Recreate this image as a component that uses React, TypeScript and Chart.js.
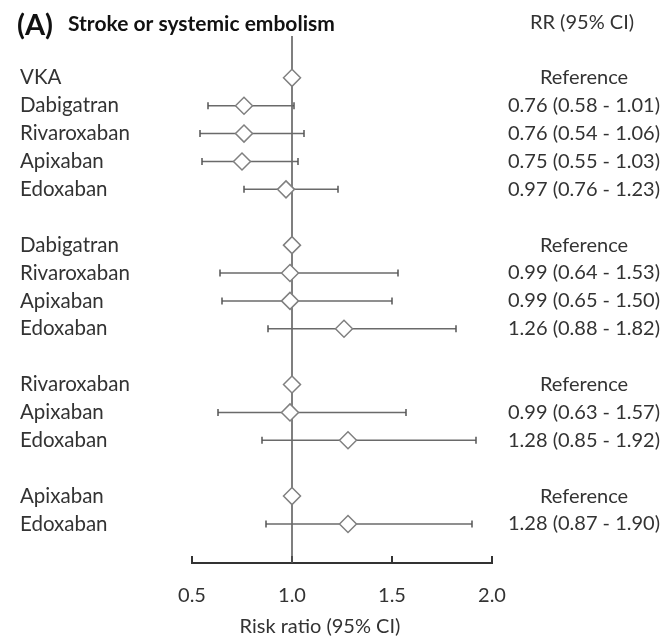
import React, { useEffect, useRef } from 'react';
import { Chart, registerables } from 'chart.js';

Chart.register(...registerables);

// ---- data ----
const rowLabels = [
  'VKA', 'Dabigatran', 'Rivaroxaban', 'Apixaban', 'Edoxaban', '',
  'Dabigatran', 'Rivaroxaban', 'Apixaban', 'Edoxaban', '',
  'Rivaroxaban', 'Apixaban', 'Edoxaban', '',
  'Apixaban', 'Edoxaban',
];
const rr: (number | null)[] = [
  1, 0.76, 0.76, 0.75, 0.97, null,
  1, 0.99, 0.99, 1.26, null,
  1, 0.99, 1.28, null,
  1, 1.28,
];
const ciLow: (number | null)[] = [
  null, 0.58, 0.54, 0.55, 0.76, null,
  null, 0.64, 0.65, 0.88, null,
  null, 0.63, 0.85, null,
  null, 0.87,
];
const ciHigh: (number | null)[] = [
  null, 1.01, 1.06, 1.03, 1.23, null,
  null, 1.53, 1.50, 1.82, null,
  null, 1.57, 1.92, null,
  null, 1.90,
];
const xTicks = [0.5, 1.0, 1.5, 2.0];
const referenceValue = 1;

const panelTag = '(A)';
const panelTitle = 'Stroke or systemic embolism';
const rightHeader = 'RR (95% CI)';
const xTitle = 'Risk ratio (95% CI)';

const FONT = 'Lato, "Open Sans", sans-serif';
const TEXT = '#333333';

const rightLabels = rr.map((v, i) => {
  if (v == null) return '';
  if (ciLow[i] == null || ciHigh[i] == null) return 'Reference';
  return `${v.toFixed(2)} (${(ciLow[i] as number).toFixed(2)} - ${(ciHigh[i] as number).toFixed(2)})`;
});

const Y_MIN = -1.5;
const Y_MAX = 17.4;

const headerPlugin = {
  id: 'forestHeaders',
  afterDraw(chart: any) {
    const { ctx, chartArea, scales } = chart;
    const y = scales.y.getPixelForValue(-2);
    ctx.save();
    ctx.fillStyle = '#111';
    ctx.textBaseline = 'middle';
    ctx.textAlign = 'left';
    ctx.font = `bold 29px ${FONT}`;
    ctx.fillText(panelTag, 17, y + 4);
    ctx.font = `bold 21px ${FONT}`;
    ctx.fillText(panelTitle, 68, y + 2);
    ctx.fillStyle = TEXT;
    ctx.font = `20px ${FONT}`;
    ctx.textAlign = 'center';
    ctx.fillText(rightHeader, 582, y);
    ctx.fillText(xTitle, chartArea.left + 128, 627);
    ctx.restore();
  },
};

export default function App() {
  const ref = useRef<HTMLCanvasElement>(null);

  useEffect(() => {
    if (!ref.current) return;
    const rows = rowLabels.map((_, i) => i);
    const ciRows = rows.filter((i) => ciLow[i] != null && ciHigh[i] != null);

    const ciDatasets = ciRows.map((i) => ({
      label: 'ci' + i,
      data: [
        { x: ciLow[i] as number, y: i },
        { x: ciHigh[i] as number, y: i },
      ],
      showLine: true,
      borderColor: '#6a6a6a',
      borderWidth: 1.5,
      pointRadius: 0,
      order: 2,
    }));

    const capData = ciRows.flatMap((i) => [
      { x: ciLow[i] as number, y: i },
      { x: ciHigh[i] as number, y: i },
    ]);

    const pointData = rows
      .filter((i) => rr[i] != null)
      .map((i) => ({ x: rr[i] as number, y: i }));

    const chart = new Chart(ref.current, {
      type: 'scatter',
      data: {
        datasets: [
          {
            label: 'reference',
            data: [
              { x: referenceValue, y: Y_MIN },
              { x: referenceValue, y: Y_MAX },
            ],
            showLine: true,
            borderColor: '#555555',
            borderWidth: 1.5,
            pointRadius: 0,
            order: 3,
          } as any,
          ...ciDatasets,
          {
            label: 'caps',
            data: capData,
            pointStyle: 'line',
            rotation: 90,
            radius: 3.5,
            borderColor: '#555555',
            borderWidth: 1.5,
            order: 1,
          } as any,
          {
            label: 'rr',
            data: pointData,
            pointStyle: 'rectRot',
            radius: 8.5,
            backgroundColor: '#ffffff',
            borderColor: '#808080',
            borderWidth: 1.5,
            order: 0,
          } as any,
        ],
      },
      options: {
        animation: false,
        responsive: false,
        maintainAspectRatio: false,
        layout: { padding: { left: 20, top: 36, right: 0, bottom: 0 } },
        plugins: {
          legend: { display: false },
          tooltip: { enabled: false },
        },
        scales: {
          x: {
            type: 'linear',
            position: 'bottom',
            min: xTicks[0],
            max: xTicks[xTicks.length - 1],
            afterBuildTicks: (s: any) => {
              s.ticks = xTicks.map((v) => ({ value: v }));
            },
            ticks: {
              callback: (v: any) => Number(v).toFixed(1),
              font: { family: FONT, size: 20 },
              color: TEXT,
              padding: 28,
              maxRotation: 0,
            },
            grid: {
              drawOnChartArea: false,
              drawTicks: true,
              tickLength: -7,
              color: '#333333',
              lineWidth: 2,
            },
            border: { display: true, color: '#333333', width: 2 },
            afterFit: (s: any) => {
              s.height = 77;
            },
          },
          y: {
            type: 'linear',
            position: 'left',
            reverse: true,
            min: Y_MIN,
            max: Y_MAX,
            afterBuildTicks: (s: any) => {
              s.ticks = rows.map((v) => ({ value: v }));
            },
            ticks: {
              autoSkip: false,
              crossAlign: 'far',
              callback: (v: any) => rowLabels[v] ?? '',
              font: { family: FONT, size: 20.5 },
              color: TEXT,
              padding: 0,
            },
            grid: { display: false, drawTicks: false, tickLength: 0 },
            border: { display: false },
            afterFit: (s: any) => {
              s.width = 172;
            },
          },
          y2: {
            type: 'linear',
            position: 'right',
            reverse: true,
            min: Y_MIN,
            max: Y_MAX,
            afterBuildTicks: (s: any) => {
              s.ticks = rows.map((v) => ({ value: v }));
            },
            ticks: {
              autoSkip: false,
              crossAlign: 'center',
              callback: (v: any) => rightLabels[v] ?? '',
              font: { family: FONT, size: 20 },
              color: TEXT,
              padding: 16,
            },
            grid: { display: false, drawTicks: false, tickLength: 0 },
            border: { display: false },
            afterFit: (s: any) => {
              s.width = 174;
            },
          },
        },
      } as any,
      plugins: [headerPlugin],
    });

    return () => chart.destroy();
  }, []);

  return (
    <div style={{ position: 'absolute', left: 0, top: 0, width: 666, height: 640, background: '#fff' }}>
      <canvas ref={ref} width={666} height={640} />
    </div>
  );
}
